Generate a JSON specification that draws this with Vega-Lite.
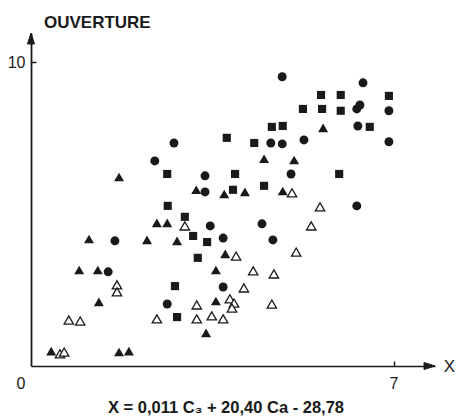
{
  "$schema": "https://vega.github.io/schema/vega-lite/v6.json",
  "width": 404,
  "height": 333,
  "autosize": {"type": "none"},
  "padding": {"left": 31, "top": 33, "right": 21, "bottom": 51},
  "background": "white",
  "config": {
    "view": {"stroke": null},
    "font": "Liberation Sans"
  },
  "title": {
    "text": "X = 0,011 C₃ + 20,40 Ca - 28,78",
    "orient": "bottom",
    "anchor": "middle",
    "fontSize": 16.5,
    "fontWeight": "bold",
    "color": "#1a1a1a",
    "dx": -7,
    "offset": 9
  },
  "data": {
    "values": [
      {"x": 4.85, "y": 9.52, "type": "circle"},
      {"x": 6.41, "y": 9.32, "type": "circle"},
      {"x": 6.29, "y": 8.46, "type": "circle"},
      {"x": 6.35, "y": 8.59, "type": "circle"},
      {"x": 6.91, "y": 8.40, "type": "circle"},
      {"x": 6.31, "y": 7.90, "type": "circle"},
      {"x": 5.27, "y": 7.44, "type": "circle"},
      {"x": 4.63, "y": 7.34, "type": "circle"},
      {"x": 4.85, "y": 7.31, "type": "circle"},
      {"x": 6.91, "y": 7.38, "type": "circle"},
      {"x": 5.02, "y": 6.32, "type": "circle"},
      {"x": 6.29, "y": 5.27, "type": "circle"},
      {"x": 4.46, "y": 4.68, "type": "circle"},
      {"x": 4.67, "y": 4.15, "type": "circle"},
      {"x": 2.76, "y": 7.34, "type": "circle"},
      {"x": 2.39, "y": 6.75, "type": "circle"},
      {"x": 3.36, "y": 6.26, "type": "circle"},
      {"x": 3.36, "y": 5.73, "type": "circle"},
      {"x": 3.46, "y": 4.61, "type": "circle"},
      {"x": 3.71, "y": 4.21, "type": "circle"},
      {"x": 1.62, "y": 4.12, "type": "circle"},
      {"x": 1.49, "y": 3.10, "type": "circle"},
      {"x": 3.71, "y": 2.60, "type": "circle"},
      {"x": 2.63, "y": 2.04, "type": "circle"},
      {"x": 5.60, "y": 8.92, "type": "square"},
      {"x": 5.98, "y": 8.92, "type": "square"},
      {"x": 6.91, "y": 8.89, "type": "square"},
      {"x": 5.25, "y": 8.46, "type": "square"},
      {"x": 5.62, "y": 8.46, "type": "square"},
      {"x": 5.98, "y": 8.40, "type": "square"},
      {"x": 4.65, "y": 7.87, "type": "square"},
      {"x": 4.86, "y": 7.90, "type": "square"},
      {"x": 6.54, "y": 7.87, "type": "square"},
      {"x": 3.78, "y": 7.51, "type": "square"},
      {"x": 4.31, "y": 7.34, "type": "square"},
      {"x": 2.63, "y": 6.32, "type": "square"},
      {"x": 3.94, "y": 6.32, "type": "square"},
      {"x": 5.95, "y": 6.32, "type": "square"},
      {"x": 3.90, "y": 5.80, "type": "square"},
      {"x": 4.50, "y": 5.93, "type": "square"},
      {"x": 2.64, "y": 5.27, "type": "square"},
      {"x": 2.97, "y": 4.91, "type": "square"},
      {"x": 3.13, "y": 4.28, "type": "square"},
      {"x": 3.40, "y": 4.08, "type": "square"},
      {"x": 3.22, "y": 3.56, "type": "square"},
      {"x": 2.78, "y": 2.63, "type": "square"},
      {"x": 2.82, "y": 1.61, "type": "square"},
      {"x": 5.64, "y": 7.84, "type": "triangle"},
      {"x": 4.50, "y": 6.82, "type": "triangle"},
      {"x": 5.08, "y": 6.78, "type": "triangle"},
      {"x": 4.13, "y": 5.73, "type": "triangle"},
      {"x": 4.86, "y": 5.76, "type": "triangle"},
      {"x": 1.70, "y": 6.22, "type": "triangle"},
      {"x": 3.19, "y": 5.80, "type": "triangle"},
      {"x": 3.73, "y": 5.66, "type": "triangle"},
      {"x": 2.43, "y": 4.71, "type": "triangle"},
      {"x": 2.63, "y": 4.71, "type": "triangle"},
      {"x": 1.12, "y": 4.18, "type": "triangle"},
      {"x": 2.24, "y": 4.15, "type": "triangle"},
      {"x": 2.82, "y": 4.12, "type": "triangle"},
      {"x": 3.75, "y": 3.69, "type": "triangle"},
      {"x": 0.93, "y": 3.16, "type": "triangle"},
      {"x": 1.29, "y": 3.16, "type": "triangle"},
      {"x": 3.57, "y": 3.16, "type": "triangle"},
      {"x": 1.31, "y": 2.11, "type": "triangle"},
      {"x": 3.57, "y": 2.14, "type": "triangle"},
      {"x": 3.38, "y": 1.09, "type": "triangle"},
      {"x": 0.39, "y": 0.49, "type": "triangle"},
      {"x": 1.70, "y": 0.46, "type": "triangle"},
      {"x": 1.89, "y": 0.49, "type": "triangle"},
      {"x": 5.04, "y": 5.70, "type": "open"},
      {"x": 5.58, "y": 5.24, "type": "open"},
      {"x": 5.41, "y": 4.61, "type": "open"},
      {"x": 2.97, "y": 4.61, "type": "open"},
      {"x": 3.96, "y": 3.62, "type": "open"},
      {"x": 5.12, "y": 3.75, "type": "open"},
      {"x": 4.29, "y": 3.13, "type": "open"},
      {"x": 4.69, "y": 3.03, "type": "open"},
      {"x": 1.66, "y": 2.67, "type": "open"},
      {"x": 1.66, "y": 2.44, "type": "open"},
      {"x": 4.11, "y": 2.57, "type": "open"},
      {"x": 3.20, "y": 2.01, "type": "open"},
      {"x": 3.84, "y": 2.21, "type": "open"},
      {"x": 3.92, "y": 2.07, "type": "open"},
      {"x": 3.88, "y": 1.91, "type": "open"},
      {"x": 4.65, "y": 2.04, "type": "open"},
      {"x": 0.73, "y": 1.51, "type": "open"},
      {"x": 0.95, "y": 1.48, "type": "open"},
      {"x": 2.43, "y": 1.55, "type": "open"},
      {"x": 3.20, "y": 1.55, "type": "open"},
      {"x": 3.49, "y": 1.65, "type": "open"},
      {"x": 3.71, "y": 1.55, "type": "open"},
      {"x": 0.56, "y": 0.40, "type": "open"},
      {"x": 0.64, "y": 0.46, "type": "open"}
    ]
  },
  "layer": [
    {
      "encoding": {
        "x": {
          "field": "x",
          "type": "quantitative",
          "scale": {"domain": [0, 7.8], "nice": false, "zero": false},
          "axis": {
            "values": [0, 7],
            "grid": false,
            "domainColor": "#1a1a1a",
            "domainWidth": 1.6,
            "tickColor": {"condition": {"test": "datum.value == 0", "value": "transparent"}, "value": "#1a1a1a"},
            "tickWidth": 1.5,
            "tickSize": -5,
            "labelPadding": 14,
            "labelFontSize": 16,
            "labelColor": "#1a1a1a",
            "labelAlign": {"condition": {"test": "datum.value == 0", "value": "right"}, "value": "center"},
            "labelOffset": {"condition": {"test": "datum.value == 0", "value": -6}, "value": 0},
            "labelFlush": false,
            "title": "X",
            "titleFontSize": 17,
            "titleFontWeight": "normal",
            "titleColor": "#1a1a1a",
            "titleX": 418,
            "titleY": 0,
            "titleAlign": "center",
            "titleBaseline": "middle"
          }
        },
        "y": {
          "field": "y",
          "type": "quantitative",
          "scale": {"domain": [0, 10.96], "nice": false, "zero": false},
          "axis": {
            "values": [10],
            "grid": false,
            "domainColor": "#1a1a1a",
            "domainWidth": 1.8,
            "tickColor": "#1a1a1a",
            "tickWidth": 1.5,
            "tickSize": -5,
            "labelPadding": 11,
            "labelFontSize": 16,
            "labelColor": "#1a1a1a",
            "title": null
          }
        }
      },
      "layer": [
        {
          "transform": [{"filter": "datum.type == 'circle'"}],
          "mark": {"type": "point", "shape": "circle", "filled": true, "fill": "#1a1a1a", "size": 80, "opacity": 1}
        },
        {
          "transform": [{"filter": "datum.type == 'square'"}],
          "mark": {"type": "point", "shape": "square", "filled": true, "fill": "#1a1a1a", "size": 66, "opacity": 1}
        },
        {
          "transform": [{"filter": "datum.type == 'triangle'"}],
          "mark": {"type": "point", "shape": "triangle-up", "filled": true, "fill": "#1a1a1a", "size": 100, "opacity": 1}
        },
        {
          "transform": [{"filter": "datum.type == 'open'"}],
          "mark": {"type": "point", "shape": "triangle-up", "filled": false, "fill": "white", "stroke": "#1a1a1a", "strokeWidth": 1.3, "size": 88, "opacity": 1}
        }
      ]
    },
    {
      "transform": [{"aggregate": [{"op": "count", "as": "n"}]}],
      "mark": {"type": "point", "shape": "M0,0L-0.32,1L0.32,1Z", "filled": true, "fill": "#1a1a1a", "stroke": "#1a1a1a", "strokeWidth": 1, "size": 484, "opacity": 1},
      "encoding": {
        "x": {"datum": 0, "type": "quantitative"},
        "y": {"datum": 10.96, "type": "quantitative"}
      }
    },
    {
      "transform": [{"aggregate": [{"op": "count", "as": "n"}]}],
      "mark": {"type": "point", "shape": "M0,0L-1,-0.32L-1,0.32Z", "filled": true, "fill": "#1a1a1a", "stroke": "#1a1a1a", "strokeWidth": 1, "size": 484, "opacity": 1},
      "encoding": {
        "x": {"datum": 7.8, "type": "quantitative"},
        "y": {"datum": 0, "type": "quantitative"}
      }
    },
    {
      "transform": [{"aggregate": [{"op": "count", "as": "n"}]}],
      "mark": {"type": "text", "text": "OUVERTURE", "align": "left", "baseline": "alphabetic", "fontSize": 17, "fontWeight": "bold", "color": "#1a1a1a"},
      "encoding": {
        "x": {"datum": 0.25, "type": "quantitative"},
        "y": {"datum": 11.13, "type": "quantitative"}
      }
    }
  ]
}
